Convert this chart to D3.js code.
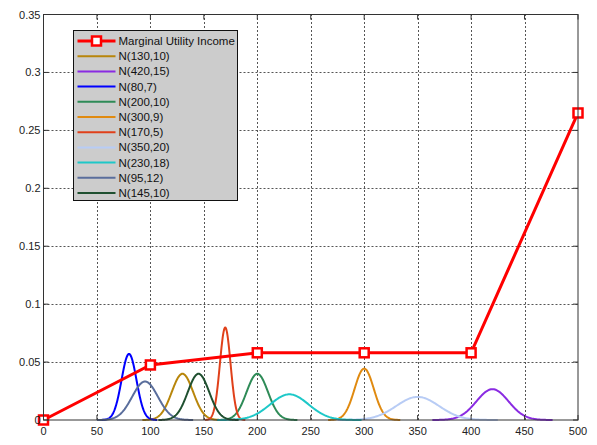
<!DOCTYPE html>
<html>
<head>
<meta charset="utf-8">
<script src="https://cdn.jsdelivr.net/npm/d3@7"></script>
<style>
  body { margin: 0; background: #fff; }
  text { font-family: "Liberation Sans", Arial, sans-serif; }
</style>
</head>
<body>
<svg width="597" height="445"></svg>
<script>
// marginal utility income curve
const muiX = [0, 100, 200, 300, 400, 500]
const muiY = [0, 0.0475, 0.058, 0.058, 0.058, 0.265]

// normal distributions, in legend order
const distMeans  = [130, 420, 80, 200, 300, 170, 350, 230, 95, 145]
const distSigmas = [10, 15, 7, 10, 9, 5, 20, 18, 12, 10]
const distColours = ["#b8860b", "#8a2be2", "#0000ff", "#2e8b57", "#e08a10",
                     "#e0401a", "#b8ccf5", "#1ec8c8", "#5a6e9c", "#1f5030"]

const xTicks = [0, 50, 100, 150, 200, 250, 300, 350, 400, 450, 500]
const yTicks = [0, 0.05, 0.1, 0.15, 0.2, 0.25, 0.3, 0.35]
const yTickLabels = ["0", "0.05", "0.1", "0.15", "0.2", "0.25", "0.3", "0.35"]

const margin = {left: 43.5, right: 19, top: 14.5, bottom: 25}
const width = 597, height = 445

const svg = d3.select("svg")
const x = d3.scaleLinear().domain([0, 500]).range([margin.left, width - margin.right])
const y = d3.scaleLinear().domain([0, 0.35]).range([height - margin.bottom, margin.top])

const frameColour = "#333"

// grid
const grid = svg.append("g")
  .attr("stroke", "#555").attr("stroke-width", 1).attr("stroke-dasharray", "2 2")
grid.selectAll(".gx").data(xTicks.slice(1, -1)).join("line")
  .attr("x1", d => Math.round(x(d)) + 0.5).attr("x2", d => Math.round(x(d)) + 0.5)
  .attr("y1", y(0)).attr("y2", y(0.35))
grid.selectAll(".gy").data(yTicks.slice(1, -1)).join("line")
  .attr("y1", d => Math.round(y(d)) + 0.5).attr("y2", d => Math.round(y(d)) + 0.5)
  .attr("x1", x(0)).attr("x2", x(500))

// normal pdf curves
const pdf = (v, m, s) => Math.exp(-0.5 * ((v - m) / s) ** 2) / (s * Math.sqrt(2 * Math.PI))
const line = d3.line().x(d => x(d[0])).y(d => y(d[1]))
distMeans.forEach((m, i) => {
  const s = distSigmas[i]
  const pts = d3.range(m - 3.75 * s, m + 3.75 * s + 0.01, s / 20).map(v => [v, pdf(v, m, s)])
  svg.append("path").datum(pts)
    .attr("fill", "none").attr("stroke", distColours[i]).attr("stroke-width", 2)
    .attr("d", line)
})

// MUI line
const muiPts = muiX.map((d, i) => [d, muiY[i]])
svg.append("path").datum(muiPts)
  .attr("fill", "none").attr("stroke", "#ff0000").attr("stroke-width", 3)
  .attr("d", line)
svg.selectAll(".mk").data(muiPts).join("rect")
  .attr("x", d => x(d[0]) - 4.5).attr("y", d => y(d[1]) - 4.5)
  .attr("width", 9).attr("height", 9)
  .attr("fill", "#fff").attr("stroke", "#ff0000").attr("stroke-width", 2.5)

// frame
svg.append("rect")
  .attr("x", x(0)).attr("y", y(0.35))
  .attr("width", x(500) - x(0)).attr("height", y(0) - y(0.35))
  .attr("fill", "none").attr("stroke", frameColour).attr("stroke-width", 1)

// ticks
const tk = svg.append("g").attr("stroke", frameColour)
tk.selectAll(".tx").data(xTicks).join("line")
  .attr("x1", d => x(d)).attr("x2", d => x(d)).attr("y1", y(0)).attr("y2", y(0) - 5)
tk.selectAll(".ty").data(yTicks).join("line")
  .attr("y1", d => y(d)).attr("y2", d => y(d)).attr("x1", x(0)).attr("x2", x(0) + 5)
tk.selectAll(".tx2").data(xTicks).join("line")
  .attr("x1", d => x(d)).attr("x2", d => x(d)).attr("y1", y(0.35)).attr("y2", y(0.35) + 5)
tk.selectAll(".ty2").data(yTicks).join("line")
  .attr("y1", d => y(d)).attr("y2", d => y(d)).attr("x1", x(500)).attr("x2", x(500) - 5)

// tick labels
svg.selectAll(".xl").data(xTicks).join("text")
  .attr("x", d => x(d)).attr("y", y(0) + 15)
  .attr("text-anchor", "middle").attr("font-size", 11).attr("fill", "#222")
  .text(d => d)
svg.selectAll(".yl").data(yTicks).join("text")
  .attr("x", x(0) - 3).attr("y", d => y(d) + 4)
  .attr("text-anchor", "end").attr("font-size", 11).attr("fill", "#222")
  .text((d, i) => yTickLabels[i])

// legend
const legendNames = ["Marginal Utility Income"].concat(distMeans.map((m, i) => `N(${m},${distSigmas[i]})`))
const legendColours = ["#ff0000"].concat(distColours)
const lg = svg.append("g").attr("transform", "translate(73.5,30.5)")
lg.append("rect").attr("width", 164).attr("height", 170)
  .attr("fill", "#cccccc").attr("stroke", "#111").attr("stroke-width", 1)
const row = lg.selectAll(".row").data(legendNames).join("g")
  .attr("transform", (d, i) => `translate(0,${10.5 + i * 15.2})`)
row.append("line").attr("x1", 4).attr("x2", 42).attr("y1", 0).attr("y2", 0)
  .attr("stroke", (d, i) => legendColours[i]).attr("stroke-width", (d, i) => i === 0 ? 3 : 2)
row.filter((d, i) => i === 0).append("rect")
  .attr("x", 18.5).attr("y", -4.5).attr("width", 9).attr("height", 9)
  .attr("fill", "#fff").attr("stroke", "#ff0000").attr("stroke-width", 2.5)
row.append("text").attr("x", 45).attr("y", 4)
  .attr("font-size", 11.5).attr("fill", "#111")
  .text(d => d)
</script>
</body>
</html>
